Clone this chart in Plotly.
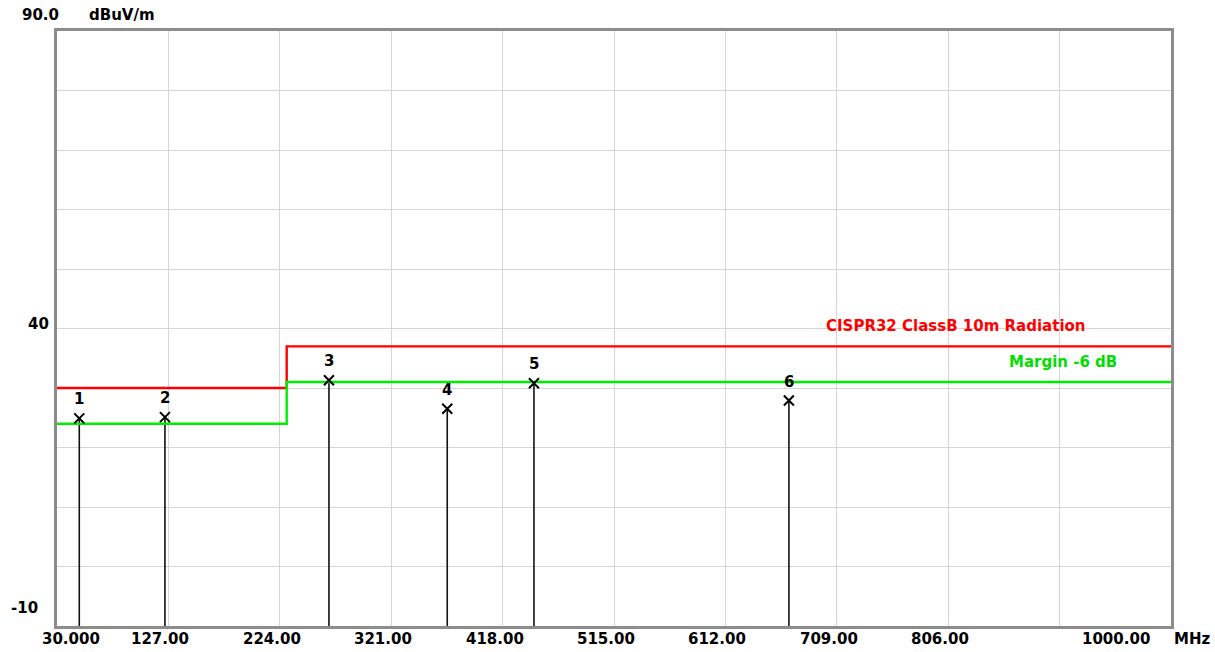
import plotly.graph_objects as go

# ---- data ----
limit_freq = [30, 230, 1000]
limit_level = [30, 37, 37]
margin_freq = [30, 230, 1000]
margin_level = [24, 31, 31]

peak_ids = ["1", "2", "3", "4", "5", "6"]
peak_freq = [49.4, 124.0, 266.8, 369.8, 445.3, 667.3]
peak_level = [24.9, 25.1, 31.3, 26.5, 30.8, 27.9]

x_tick_vals = [30, 127, 224, 321, 418, 515, 612, 709, 806, 903, 1000]
x_tick_text = ["30.000", "127.00", "224.00", "321.00", "418.00", "515.00",
               "612.00", "709.00", "806.00", "", "1000.00"]
y_min, y_max = -10, 90

FONT = "DejaVu Sans"
fig = go.Figure()

# stems
sx, sy = [], []
for f, l in zip(peak_freq, peak_level):
    sx += [f, f, None]
    sy += [y_min, l, None]
fig.add_trace(go.Scatter(x=sx, y=sy, mode="lines",
                         line=dict(color="#111111", width=1.6),
                         hoverinfo="skip", showlegend=False))

fig.add_trace(go.Scatter(x=limit_freq, y=limit_level, mode="lines",
                         line=dict(color="#ff0000", width=2.4, shape="hv"),
                         name="Limit", showlegend=False))
fig.add_trace(go.Scatter(x=margin_freq, y=margin_level, mode="lines",
                         line=dict(color="#00ee00", width=2.4, shape="hv"),
                         name="Margin", showlegend=False))

fig.add_trace(go.Scatter(x=peak_freq, y=peak_level, mode="markers",
                         marker=dict(symbol="x-thin", size=10,
                                     line=dict(color="#000000", width=2)),
                         showlegend=False))

annotations = []
for pid, f, l in zip(peak_ids, peak_freq, peak_level):
    annotations.append(dict(x=f, y=l, xref="x", yref="y", text=pid,
                            showarrow=False, yshift=19,
                            font=dict(family=FONT, size=15, color="#000000", weight="bold")))

# x tick labels
n = len(x_tick_vals)
for i, (v, t) in enumerate(zip(x_tick_vals, x_tick_text)):
    if not t:
        continue
    if i == 0:
        xa, xs = "left", -17
    elif i == n - 1:
        xa, xs = "right", -19
    else:
        xa, xs = "center", -8
    annotations.append(dict(x=v, y=0, xref="x", yref="paper", text=t,
                            showarrow=False, xanchor=xa, xshift=xs,
                            yanchor="middle", yshift=-13,
                            font=dict(family=FONT, size=15, color="#000000", weight="bold")))
annotations.append(dict(x=1, y=0, xref="paper", yref="paper", text="MHz",
                        showarrow=False, xanchor="left", xshift=1,
                        yanchor="middle", yshift=-13,
                        font=dict(family=FONT, size=15, color="#000000", weight="bold")))

# y labels
annotations += [
    dict(x=0, y=1, xref="paper", yref="paper", text="90.0", showarrow=False,
         xanchor="right", xshift=4, yanchor="middle", yshift=16,
         font=dict(family=FONT, size=15, color="#000000", weight="bold")),
    dict(x=0, y=1, xref="paper", yref="paper", text="dBuV/m", showarrow=False,
         xanchor="left", xshift=30, yanchor="middle", yshift=16,
         font=dict(family=FONT, size=15, color="#000000", weight="bold")),
    dict(x=0, y=40, xref="paper", yref="y", text="40", showarrow=False,
         xanchor="right", xshift=-6, yanchor="middle", yshift=5,
         font=dict(family=FONT, size=15, color="#000000", weight="bold")),
    dict(x=0, y=-10, xref="paper", yref="y", text="-10", showarrow=False,
         xanchor="right", xshift=-17, yanchor="middle", yshift=18,
         font=dict(family=FONT, size=15, color="#000000", weight="bold")),
    dict(x=928, y=40.4, xref="x", yref="y", text="CISPR32 ClassB 10m Radiation",
         showarrow=False, xanchor="right", yanchor="middle",
         font=dict(family=FONT, size=15, color="#ff0000", weight="bold")),
    dict(x=955, y=34.4, xref="x", yref="y", text="Margin -6 dB",
         showarrow=False, xanchor="right", yanchor="middle",
         font=dict(family=FONT, size=15, color="#00dd00", weight="bold")),
]

fig.update_layout(
    width=1215, height=652,
    margin=dict(l=57, r=44, t=31, b=26),
    paper_bgcolor="#ffffff", plot_bgcolor="#ffffff",
    annotations=annotations,
    xaxis=dict(range=[30, 1000], tick0=30, dtick=97, showticklabels=False,
               showgrid=True, gridcolor="#d8d4d0", gridwidth=1, zeroline=False,
               showline=True, linecolor="#8c8c8c", linewidth=3, mirror=True,
               ticks=""),
    yaxis=dict(range=[y_min, y_max], tick0=-10, dtick=10, showticklabels=False,
               showgrid=True, gridcolor="#d8d4d0", gridwidth=1, zeroline=False,
               showline=True, linecolor="#8c8c8c", linewidth=3, mirror=True,
               ticks=""),
)

fig.write_html("out.html", config={"displayModeBar": False},
               post_script="document.body.style.margin='0';document.body.style.overflow='hidden';")
